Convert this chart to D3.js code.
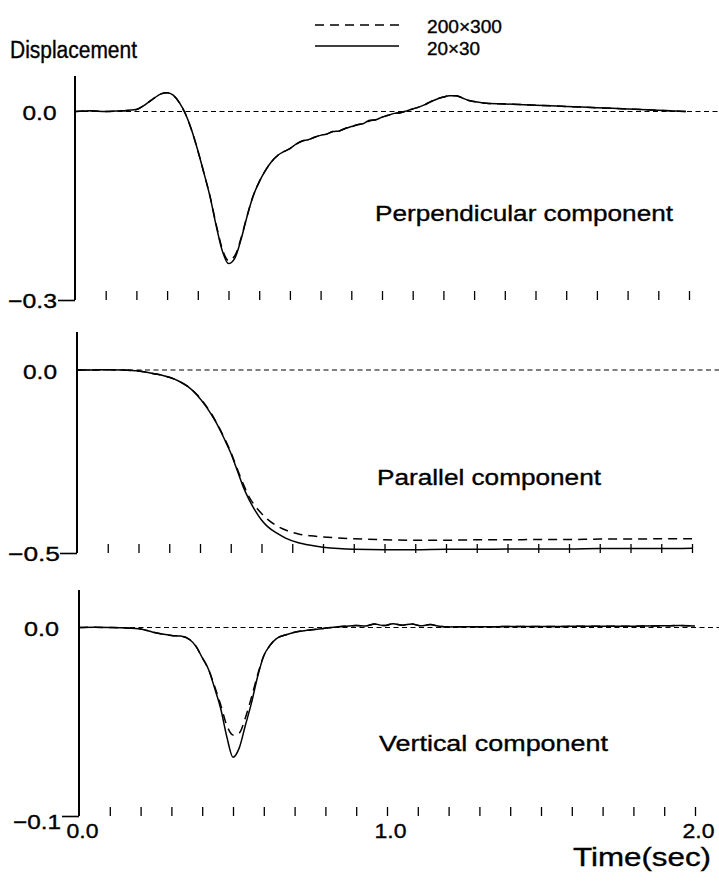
<!DOCTYPE html>
<html>
<head>
<meta charset="utf-8">
<script src="https://cdn.jsdelivr.net/npm/d3@7"></script>
<style>
  html, body { margin: 0; padding: 0; background: #fff; }
  svg { display: block; }
  text { font-family: "Liberation Sans", Arial, Helvetica, sans-serif; fill: #000; stroke: #000; stroke-width: 0.35px; }
</style>
</head>
<body>
<svg id="chart" width="719" height="883"></svg>
<script>
// ---- Data: displacement time histories, two mesh sizes ----
const meshLabels = ["200×300", "20×30"];

// Perpendicular component
const perpTime = [0,0.05,0.10,0.15,0.20,0.22,0.24,0.26,0.28,0.30,
  0.32,0.34,0.36,0.38,0.40,0.42,0.44,0.46,0.48,0.50,
  0.52,0.54,0.56,0.58,0.60,0.62,0.64,0.66,0.68,0.70,
  0.72,0.74,0.76,0.78,0.80,0.82,0.84,0.86,0.88,0.90,
  0.92,0.94,0.96,0.98,1.00,1.02,1.04,1.06,1.08,1.10,
  1.12,1.14,1.16,1.18,1.20,1.22,1.24,1.26,1.28,1.30,
  1.34,1.40,1.50,1.60,1.70,1.80,1.90,1.99];
const perpFine = [0.000,0.001,0.000,0.001,0.003,0.008,0.015,0.022,0.028,0.030,
  0.026,0.014,-0.004,-0.030,-0.062,-0.098,-0.136,-0.182,-0.222,-0.242,
  -0.234,-0.205,-0.168,-0.135,-0.112,-0.094,-0.080,-0.070,-0.064,-0.059,
  -0.052,-0.047,-0.045,-0.041,-0.038,-0.036,-0.032,-0.031,-0.027,-0.024,
  -0.021,-0.019,-0.014,-0.013,-0.009,-0.006,-0.003,-0.002,0.001,0.004,
  0.007,0.011,0.016,0.020,0.023,0.025,0.025,0.022,0.018,0.016,
  0.013,0.012,0.010,0.008,0.006,0.004,0.002,0.000];
const perpCoarse = [0.000,0.001,0.000,0.001,0.003,0.008,0.015,0.022,0.028,0.030,
  0.026,0.014,-0.004,-0.030,-0.062,-0.098,-0.135,-0.180,-0.219,-0.237,
  -0.230,-0.203,-0.167,-0.135,-0.112,-0.094,-0.080,-0.070,-0.064,-0.059,
  -0.052,-0.047,-0.045,-0.041,-0.038,-0.036,-0.032,-0.031,-0.027,-0.024,
  -0.021,-0.019,-0.015,-0.013,-0.009,-0.006,-0.003,-0.002,0.001,0.004,
  0.007,0.011,0.016,0.020,0.023,0.025,0.025,0.022,0.018,0.016,
  0.013,0.012,0.010,0.008,0.006,0.004,0.002,0.000];

// Parallel component
const paraTime = [0,0.05,0.10,0.15,0.20,0.25,0.30,0.33,0.36,0.39,
  0.42,0.45,0.48,0.50,0.52,0.54,0.56,0.58,0.60,0.62,
  0.65,0.68,0.72,0.76,0.80,0.85,0.90,1.00,1.10,1.20,
  1.30,1.40,1.50,1.60,1.70,1.80,1.90,2.00];
const paraFine = [0,0,0.001,0,-0.003,-0.010,-0.020,-0.030,-0.045,-0.068,
  -0.100,-0.140,-0.190,-0.227,-0.272,-0.318,-0.355,-0.385,-0.410,-0.428,
  -0.446,-0.460,-0.472,-0.479,-0.484,-0.488,-0.490,-0.491,-0.491,-0.490,
  -0.490,-0.489,-0.489,-0.489,-0.488,-0.488,-0.488,-0.487];
const paraCoarse = [0,0,0.001,0,-0.003,-0.010,-0.020,-0.030,-0.045,-0.067,
  -0.098,-0.138,-0.187,-0.224,-0.268,-0.310,-0.347,-0.372,-0.392,-0.408,
  -0.426,-0.438,-0.448,-0.453,-0.456,-0.459,-0.461,-0.464,-0.465,-0.465,
  -0.464,-0.464,-0.463,-0.463,-0.462,-0.462,-0.461,-0.461];

// Vertical component
const vertTime = [0,0.05,0.10,0.15,0.20,0.24,0.27,0.30,0.33,0.36,
  0.38,0.40,0.42,0.44,0.46,0.48,0.50,0.52,0.54,0.56,
  0.58,0.60,0.62,0.64,0.67,0.70,0.74,0.78,0.82,0.86,
  0.90,0.93,0.96,0.99,1.02,1.05,1.08,1.11,1.14,1.17,
  1.20,1.25,1.30,1.40,1.50,1.60,1.70,1.80,1.90,1.95,
  2.00];
const vertFine = [0.0000,0.0001,0.0000,-0.0002,-0.0008,-0.0025,-0.0035,-0.0042,-0.0045,-0.0065,
  -0.0100,-0.0160,-0.0220,-0.0320,-0.0430,-0.0580,-0.0688,-0.0640,-0.0520,-0.0400,
  -0.0260,-0.0150,-0.0095,-0.0060,-0.0040,-0.0025,-0.0015,-0.0008,0.0000,0.0006,
  0.0010,0.0008,0.0018,0.0010,0.0020,0.0012,0.0019,0.0009,0.0016,0.0006,
  0.0003,0.0004,0.0004,0.0005,0.0005,0.0006,0.0006,0.0007,0.0009,0.0011,
  0.0008];
const vertCoarse = [0.0000,0.0001,0.0000,-0.0002,-0.0008,-0.0025,-0.0035,-0.0042,-0.0045,-0.0065,
  -0.0100,-0.0160,-0.0220,-0.0310,-0.0410,-0.0520,-0.0570,-0.0560,-0.0480,-0.0370,
  -0.0250,-0.0150,-0.0095,-0.0060,-0.0040,-0.0025,-0.0015,-0.0008,0.0000,0.0006,
  0.0010,0.0008,0.0018,0.0010,0.0020,0.0012,0.0019,0.0009,0.0016,0.0006,
  0.0003,0.0004,0.0004,0.0005,0.0005,0.0006,0.0006,0.0007,0.0009,0.0011,
  0.0008];

const panelNames = ["Perpendicular component", "Parallel component", "Vertical component"];
const panelMin = [-0.3, -0.5, -0.1];
const timeTicks = d3.range(1, 21).map(i => i / 10);
const timeLabels = [0, 1, 2];

// ---- Layout ----
const layout = [
  { x: [75, 689], y0: 111.5, yBot: 300, top: 76,
    zeroLab: { right: 56.5, dy: 7.5, w: 34 }, botLab: { right: 57, dy: 7, w: 49 },
    title: { x: 375, y: 221, w: 298, size: 22.5 } },
  { x: [77, 692], y0: 370, yBot: 553, top: 332,
    zeroLab: { right: 57, dy: 8, w: 34 }, botLab: { right: 60, dy: 7, w: 52 },
    title: { x: 377, y: 485, w: 224, size: 22 } },
  { x: [79, 695], y0: 627.5, yBot: 816, top: 590,
    zeroLab: { right: 59, dy: 8, w: 35 }, botLab: { right: 61, dy: 12, w: 48 },
    title: { x: 379, y: 751, w: 229, size: 22 } }
];

const series = [
  { time: perpTime, fine: perpFine, coarse: perpCoarse },
  { time: paraTime, fine: paraFine, coarse: paraCoarse },
  { time: vertTime, fine: vertFine, coarse: vertCoarse }
];

const svg = d3.select("#chart");
const fmt = d3.format(".1f");

series.forEach((s, i) => {
  const L = layout[i];
  const x = d3.scaleLinear().domain([0, 2]).range(L.x);
  const y = d3.scaleLinear().domain([panelMin[i], 0]).range([L.yBot, L.y0]);
  const g = svg.append("g");

  // zero reference (fine dashes) to the right edge
  g.append("line")
    .attr("x1", x(0)).attr("x2", 719)
    .attr("y1", y(0)).attr("y2", y(0))
    .attr("stroke", "#000").attr("stroke-width", 1.2)
    .attr("stroke-dasharray", "5,3.5");

  // time ticks, pointing up from the bottom of the panel
  const xAxis = g.append("g")
    .attr("transform", `translate(0,${L.yBot})`)
    .call(d3.axisTop(x).tickValues(timeTicks).tickSize(9).tickFormat(""));
  xAxis.select(".domain").remove();
  xAxis.selectAll(".tick line").attr("stroke", "#000").attr("stroke-width", 1.3);

  // vertical axis
  g.append("line")
    .attr("x1", x(0)).attr("x2", x(0))
    .attr("y1", L.top).attr("y2", L.yBot)
    .attr("stroke", "#000").attr("stroke-width", 2);

  const yAxis = g.append("g")
    .attr("transform", `translate(${x(0)},0)`)
    .call(d3.axisLeft(y).tickValues([panelMin[i], 0]).tickFormat(fmt));
  yAxis.select(".domain").remove();
  yAxis.selectAll(".tick").each(function (d) {
    const t = d3.select(this);
    const isZero = d === 0;
    const lab = isZero ? L.zeroLab : L.botLab;
    t.select("line")
      .attr("x2", isZero ? 0 : -17)
      .attr("stroke", "#000").attr("stroke-width", 1.6);
    t.select("text")
      .attr("x", lab.right - x(0)).attr("dy", null).attr("y", lab.dy)
      .attr("text-anchor", "end")
      .attr("font-size", 20.5).attr("font-family", null)
      .attr("textLength", lab.w).attr("lengthAdjust", "spacingAndGlyphs");
  });

  // curves
  const line = arr => d3.line()
    .x((d, k) => x(s.time[k]))
    .y(d => y(d))
    .curve(d3.curveMonotoneX)(arr);

  g.append("path").attr("d", line(s.coarse))
    .attr("fill", "none").attr("stroke", "#000").attr("stroke-width", 1.5)
    .attr("stroke-dasharray", "9,6");
  g.append("path").attr("d", line(s.fine))
    .attr("fill", "none").attr("stroke", "#000").attr("stroke-width", 1.5);

  // panel title
  g.append("text")
    .attr("x", L.title.x).attr("y", L.title.y)
    .attr("font-size", L.title.size)
    .attr("textLength", L.title.w).attr("lengthAdjust", "spacingAndGlyphs")
    .text(panelNames[i]);

  // time labels under the last panel
  if (i === series.length - 1) {
    const lab = g.append("g")
      .attr("transform", `translate(3,${L.yBot})`)
      .call(d3.axisBottom(x).tickValues(timeLabels).tickSize(0).tickFormat(fmt));
    lab.select(".domain").remove();
    lab.selectAll(".tick text")
      .attr("dy", null).attr("y", 22)
      .attr("font-size", 20.5).attr("font-family", null)
      .attr("textLength", 32).attr("lengthAdjust", "spacingAndGlyphs");

    g.append("text")
      .attr("x", 573).attr("y", 866)
      .attr("font-size", 25)
      .attr("textLength", 138).attr("lengthAdjust", "spacingAndGlyphs")
      .text("Time(sec)");
  }
});

// y axis title
svg.append("text")
  .attr("x", 10).attr("y", 58)
  .attr("font-size", 23)
  .attr("textLength", 127).attr("lengthAdjust", "spacingAndGlyphs")
  .text("Displacement");

// legend
const legend = svg.append("g");
const legendRows = [
  { y: 25, dash: "9,6", text: meshLabels[0], ty: 33, w: 75 },
  { y: 46, dash: null, text: meshLabels[1], ty: 55, w: 53 }
];
legendRows.forEach(r => {
  legend.append("line")
    .attr("x1", 315).attr("x2", 399)
    .attr("y1", r.y).attr("y2", r.y)
    .attr("stroke", "#000").attr("stroke-width", 1.5)
    .attr("stroke-dasharray", r.dash);
  legend.append("text")
    .attr("x", 427).attr("y", r.ty)
    .attr("font-size", 17.5)
    .attr("textLength", r.w).attr("lengthAdjust", "spacingAndGlyphs")
    .text(r.text);
});
</script>
</body>
</html>
